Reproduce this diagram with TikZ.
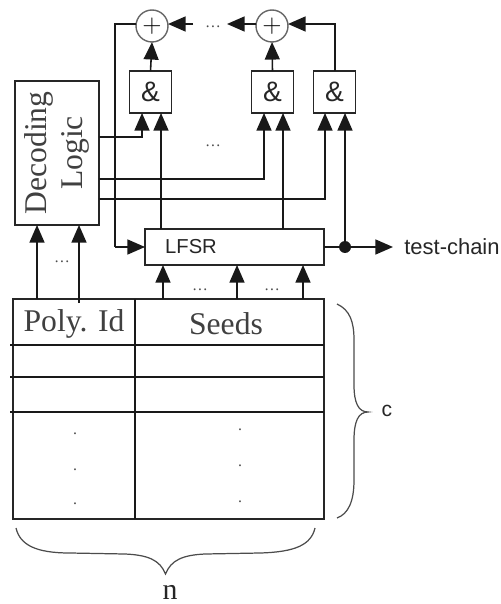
\documentclass[tikz,border=0pt]{standalone}
\usepackage{fontspec}
\setmainfont{Liberation Serif}
\setsansfont{Liberation Sans}
\usetikzlibrary{arrows.meta}
\begin{document}
\begin{tikzpicture}[x=0.02cm,y=-0.02cm]
	\tikzstyle{block}=[rectangle,draw=black!85,line width=0.9pt,inner sep=0pt,outer sep=0pt,text=black!75]
	\tikzstyle{gate}=[block,minimum width=0.84cm,minimum height=0.84cm,text=black!85,font=\sffamily\fontsize{16}{18}\selectfont]
	\tikzstyle{adder}=[circle,draw=black!60,line width=0.8pt,minimum size=0.64cm,inner sep=0pt,outer sep=0pt,font=\fontsize{15}{15}\selectfont]
	\tikzstyle{wire}=[draw=black!90,line width=0.9pt]
	\tikzstyle{edge}=[wire,-{Triangle[length=10pt,width=8.5pt]}]
	\tikzstyle{dotsrow}=[inner sep=0pt,text=black!70,font=\small]
	\useasboundingbox (0,0) rectangle (500,604);
	% adders and gates
	\node [adder] (add1) at (152,26) {$+$};
	\node [adder] (add2) at (272,26) {$+$};
	\node [gate] (and1) at (150.5,92) {\&};
	\node [gate] (and2) at (272.5,92) {\&};
	\node [gate] (and3) at (334.5,92) {\&};
	\node [block,rotate=90,minimum width=2.88cm,minimum height=1.68cm,align=center,font=\fontsize{18}{20.5}\selectfont] (logic) at (57,153) {Decoding\\Logic};
	\node [block,minimum width=3.58cm,minimum height=0.72cm] (lfsr) at (234.5,247) {};
	\node [text=black!85,font=\sffamily\fontsize{11.5}{12}\selectfont] (lfsrtext) at (191,247) {LFSR};
	\node [anchor=west,text=black!85,inner sep=0pt,font=\sffamily\fontsize{12.5}{14}\selectfont] (chain) at (404,247) {test-chain};
	% memory table
	\node [block,minimum width=6.22cm,minimum height=4.4cm] (table) at (168.5,409) {};
	\node [text=black!75,font=\fontsize{18}{20}\selectfont] (polyid) at (74,324) {Poly. Id};
	\node [text=black!75,font=\fontsize{18}{20}\selectfont] (seeds) at (226,324) {Seeds};
	\coordinate (split) at (135,0);
	\draw [wire] (split |- table.north) -- (split |- table.south);
	\foreach \row/\ypos in {r1/345,r2/377,r3/412} {
		\coordinate (\row) at (10,\ypos);
		\draw [wire] (\row) -- (\row -| table.east);
	}
	\foreach \name/\xpos/\ypos in {l1/75/434,l2/75/470,l3/75/504,s1/240/430,s2/240/466,s3/240/502} {
		\node [dotsrow,anchor=base] (\name) at (\xpos,\ypos) {.};
	}
	% feedback line
	\coordinate (fbtop) at (115,24);
	\coordinate (fbbot) at (115,247);
	\draw [wire] (add1.west |- fbtop) -- (fbtop) -- (fbbot);
	\path [edge] (fbbot) -- (lfsr.west);
	% adder chain
	\coordinate (gap1) at (193,24);
	\coordinate (gap2) at (227,24);
	\coordinate (and3up) at (335,24);
	\path [edge] (gap1) -- (add1.east |- gap1);
	\path [edge] (add2.west |- gap2) -- (gap2);
	\path [edge] (and3up |- and3.north) -- (and3up) -- (add2.east |- and3up);
	\path [edge] (and1.north) -- (add1.south);
	\path [edge] (and2.north) -- (add2.south);
	\node [dotsrow,anchor=base] (dotsa) at (213,28) {\ldots};
	\node [dotsrow,anchor=base] (dotsb) at (213,147) {\ldots};
	% select lines
	\coordinate (sel1) at (142,137);
	\coordinate (sel2) at (264,179);
	\coordinate (sel3) at (325,199);
	\path [edge] (logic.south |- sel1) -- (sel1) -- (sel1 |- and1.south);
	\path [edge] (logic.south |- sel2) -- (sel2) -- (sel2 |- and2.south);
	\path [edge] (logic.south |- sel3) -- (sel3) -- (sel3 |- and3.south);
	% LFSR outputs
	\coordinate (tap1) at (161,0);
	\coordinate (tap2) at (283,0);
	\coordinate (chainin) at (393,247);
	\path [edge] (tap1 |- lfsr.north) -- (tap1 |- and1.south);
	\path [edge] (tap2 |- lfsr.north) -- (tap2 |- and2.south);
	\node [circle,fill=black!90,minimum size=0.24cm,inner sep=0pt] (junction) at (345,247) {};
	\draw [wire] (lfsr.east) -- (junction);
	\path [edge] (junction) -- (and3.south -| junction);
	\path [edge] (junction) -- (chainin);
	% table to LFSR and logic
	\foreach \xpos in {163,237,303} {
		\coordinate (pin) at (\xpos,0);
		\path [edge] (pin |- table.north) -- (pin |- lfsr.south);
	}
	\coordinate (ida) at (37,299);
	\coordinate (idb) at (79,303);
	\path [edge] (ida) -- (ida |- logic.west);
	\path [edge] (idb) -- (idb |- logic.west);
	\node [dotsrow,anchor=base] (dotsc) at (62,262) {\ldots};
	\node [dotsrow,anchor=base] (dotsd) at (200,290) {\ldots};
	\node [dotsrow,anchor=base] (dotse) at (272,290) {\ldots};
	% braces
	\coordinate (cstart) at (337,304);
	\coordinate (ctip) at (368,412);
	\coordinate (cend) at (337,518);
	\coordinate (nstart) at (16,528);
	\coordinate (ntip) at (165.5,574);
	\coordinate (nend) at (315,528);
	\draw [draw=black!70,line width=0.7pt] (cstart) .. controls (350,310) and (354,322) .. (354,340) -- (354,385) .. controls (354,402) and (358,412) .. (ctip) .. controls (358,412) and (354,422) .. (354,440) -- (354,480) .. controls (354,502) and (348,514) .. (cend);
	\draw [draw=black!70,line width=0.7pt] (nstart) .. controls (20,545) and (36,553) .. (70,553) -- (125,554) .. controls (148,555) and (160,560) .. (ntip) .. controls (171,560) and (183,555) .. (205,554) -- (260,553) .. controls (295,552) and (311,545) .. (nend);
	\node [text=black!85,font=\sffamily\fontsize{12}{14}\selectfont] (clabel) at (387,411) {c};
	\node [text=black!85,font=\fontsize{17}{19}\selectfont] (nlabel) at (170,592) {n};
\end{tikzpicture}
\end{document}
